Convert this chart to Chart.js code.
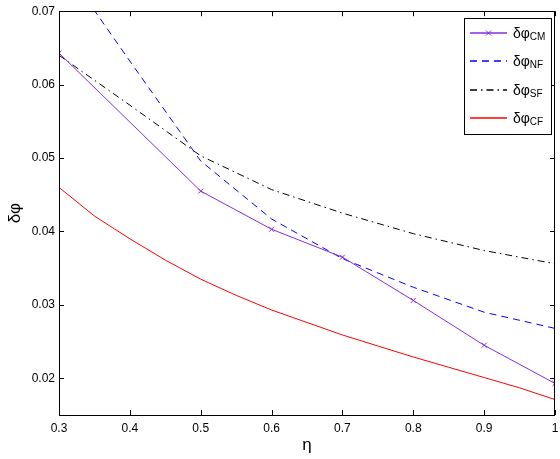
<!DOCTYPE html>
<html>
<head>
<meta charset="utf-8">
<script src="https://cdn.jsdelivr.net/npm/chart.js@4.4.1/dist/chart.umd.min.js"></script>
<style>
  body { margin: 0; background: #fff; }
  #wrap { width: 560px; height: 459px; }
</style>
</head>
<body>
<div id="wrap"><canvas id="js--chart" width="560" height="459"></canvas></div>
<script>
// x positions
const etaCoarse = [0.3, 0.4, 0.5, 0.6, 0.7, 0.8, 0.9, 1.0];
const etaCM = [0.3, 0.5, 0.6, 0.7, 0.8, 0.9, 1.0];
const etaCF = [0.3, 0.35, 0.4, 0.45, 0.5, 0.55, 0.6, 0.65, 0.7, 0.75, 0.8, 0.85, 0.9, 0.95, 1.0];

// series values
const dphiCM = [0.0643, 0.0455, 0.0403, 0.0365, 0.0306, 0.0245, 0.0193];
const dphiNF = [0.0770, 0.0632, 0.0496, 0.0417, 0.0363, 0.0324, 0.0290, 0.0268];
const dphiSF = [0.0640, 0.0572, 0.0503, 0.0457, 0.0425, 0.0397, 0.0374, 0.0356];
const dphiCF = [0.0460, 0.0421, 0.0390, 0.0361, 0.0335, 0.0313, 0.0293, 0.0276, 0.0259,
                0.0244, 0.0229, 0.0215, 0.0201, 0.0187, 0.0171];

// legend subscripts
const seriesSubs = ['CM', 'NF', 'SF', 'CF'];

// ticks
const xTicks = [0.3, 0.4, 0.5, 0.6, 0.7, 0.8, 0.9, 1.0];
const xTickLabels = ['0.3', '0.4', '0.5', '0.6', '0.7', '0.8', '0.9', '1'];
const yTicks = [0.02, 0.03, 0.04, 0.05, 0.06, 0.07];
const yTickLabels = ['0.02', '0.03', '0.04', '0.05', '0.06', '0.07'];

const FONT = "'Liberation Sans', Arial, Helvetica, sans-serif";

function pts(xs, ys) {
    return xs.map(function (x, i) { return { x: x, y: ys[i] }; });
}

const data = {
    datasets: [
        {
            label: 'δφ' + seriesSubs[0],
            sub: seriesSubs[0],
            data: pts(etaCM, dphiCM),
            borderColor: '#8a2be2',
            backgroundColor: '#8a2be2',
            borderWidth: 1,
            pointStyle: 'crossRot',
            pointRadius: 3.5,
            pointBorderWidth: 1
        },
        {
            label: 'δφ' + seriesSubs[1],
            sub: seriesSubs[1],
            data: pts(etaCoarse, dphiNF),
            borderColor: '#0000ff',
            borderWidth: 1,
            borderDash: [7, 5],
            pointRadius: 0
        },
        {
            label: 'δφ' + seriesSubs[2],
            sub: seriesSubs[2],
            data: pts(etaCoarse, dphiSF),
            borderColor: '#000000',
            borderWidth: 1,
            borderDash: [7, 4, 1.5, 4],
            pointRadius: 0
        },
        {
            label: 'δφ' + seriesSubs[3],
            sub: seriesSubs[3],
            data: pts(etaCF, dphiCF),
            borderColor: '#ff0000',
            borderWidth: 1,
            pointRadius: 0
        }
    ]
};

// box + inward ticks like matlab
const framePlugin = {
    id: 'frame',
    afterDatasetsDraw: function (chart) {
        const ctx = chart.ctx;
        const a = chart.chartArea;
        const sx = chart.scales.x, sy = chart.scales.y;
        const len = 5;
        ctx.save();
        ctx.strokeStyle = '#000';
        ctx.lineWidth = 1;
        ctx.strokeRect(Math.round(a.left) + 0.5, Math.round(a.top) + 0.5,
            Math.round(a.right - a.left) - 1, Math.round(a.bottom - a.top));
        ctx.beginPath();
        xTicks.forEach(function (v) {
            const px = Math.round(sx.getPixelForValue(v)) + 0.5;
            ctx.moveTo(px, a.bottom); ctx.lineTo(px, a.bottom - len);
            ctx.moveTo(px, a.top); ctx.lineTo(px, a.top + len);
        });
        yTicks.forEach(function (v) {
            const py = Math.round(sy.getPixelForValue(v)) + 0.5;
            ctx.moveTo(a.left, py); ctx.lineTo(a.left + len, py);
            ctx.moveTo(a.right, py); ctx.lineTo(a.right - len, py);
        });
        ctx.stroke();
        ctx.restore();
    }
};

// legend with subscripts
const legendPlugin = {
    id: 'subLegend',
    afterDraw: function (chart) {
        const ctx = chart.ctx;
        const a = chart.chartArea;
        const right = a.right - 4, left = right - 87;
        const top = a.top + 7, bottom = top + 116;
        ctx.save();
        ctx.fillStyle = '#fff';
        ctx.fillRect(left, top, right - left, bottom - top);
        ctx.strokeStyle = '#000';
        ctx.lineWidth = 1;
        ctx.strokeRect(Math.round(left) + 0.5, Math.round(top) + 0.5, right - left, bottom - top);
        chart.data.datasets.forEach(function (ds, i) {
            const y = Math.round(top + 15 + i * 28.2);
            const x0 = left + 6, x1 = left + 43;
            ctx.strokeStyle = ds.borderColor;
            ctx.lineWidth = 1.4;
            ctx.setLineDash(ds.borderDash || []);
            ctx.beginPath();
            ctx.moveTo(x0, y); ctx.lineTo(x1, y);
            ctx.stroke();
            ctx.setLineDash([]);
            if (ds.pointStyle === 'crossRot') {
                const mx = (x0 + x1) / 2, r = 2.5;
                ctx.lineWidth = 1;
                ctx.beginPath();
                ctx.moveTo(mx - r, y - r); ctx.lineTo(mx + r, y + r);
                ctx.moveTo(mx - r, y + r); ctx.lineTo(mx + r, y - r);
                ctx.stroke();
            }
            ctx.fillStyle = '#000';
            ctx.textBaseline = 'middle';
            ctx.textAlign = 'left';
            ctx.font = '14px ' + FONT;
            const main = 'δφ';
            ctx.fillText(main, left + 49, y + 1);
            const w = ctx.measureText(main).width;
            ctx.font = '10px ' + FONT;
            ctx.fillText(ds.sub, left + 49 + w, y + 4.5);
        });
        ctx.restore();
    }
};

const config = {
    type: 'line',
    data: data,
    options: {
        responsive: false,
        animation: false,
        layout: { padding: { top: 10, right: 1, left: 0, bottom: 0 } },
        plugins: {
            legend: { display: false },
            tooltip: { enabled: false }
        },
        scales: {
            x: {
                type: 'linear',
                min: 0.3,
                max: 1.0,
                grid: { display: false, drawTicks: false, tickLength: 0 },
                border: { display: false },
                afterBuildTicks: function (axis) {
                    axis.ticks = xTicks.map(function (v) { return { value: v }; });
                },
                afterFit: function (axis) {
                    axis.height = 44;
                    axis.paddingLeft = 0;
                    axis.paddingRight = 0;
                },
                ticks: {
                    padding: 6,
                    maxRotation: 0,
                    autoSkip: false,
                    color: '#000',
                    font: { family: FONT, size: 12 },
                    callback: function (v, i) { return xTickLabels[i]; }
                },
                title: {
                    display: true,
                    text: 'η',
                    color: '#000',
                    font: { family: FONT, size: 17 },
                    padding: { top: 0, bottom: 3 }
                }
            },
            y: {
                type: 'linear',
                min: 0.015,
                max: 0.07,
                grid: { display: false, drawTicks: false, tickLength: 0 },
                border: { display: false },
                afterBuildTicks: function (axis) {
                    axis.ticks = yTicks.map(function (v) { return { value: v }; });
                },
                afterFit: function (axis) {
                    axis.width = 59;
                },
                ticks: {
                    padding: 4,
                    autoSkip: false,
                    color: '#000',
                    font: { family: FONT, size: 12 },
                    callback: function (v, i) { return yTickLabels[i]; }
                },
                title: {
                    display: true,
                    text: 'δφ',
                    color: '#000',
                    font: { family: FONT, size: 17 },
                    padding: { top: 5, bottom: 0 }
                }
            }
        }
    },
    plugins: [framePlugin, legendPlugin]
};

const myChart = new Chart(document.getElementById('js--chart'), config);
</script>
</body>
</html>
